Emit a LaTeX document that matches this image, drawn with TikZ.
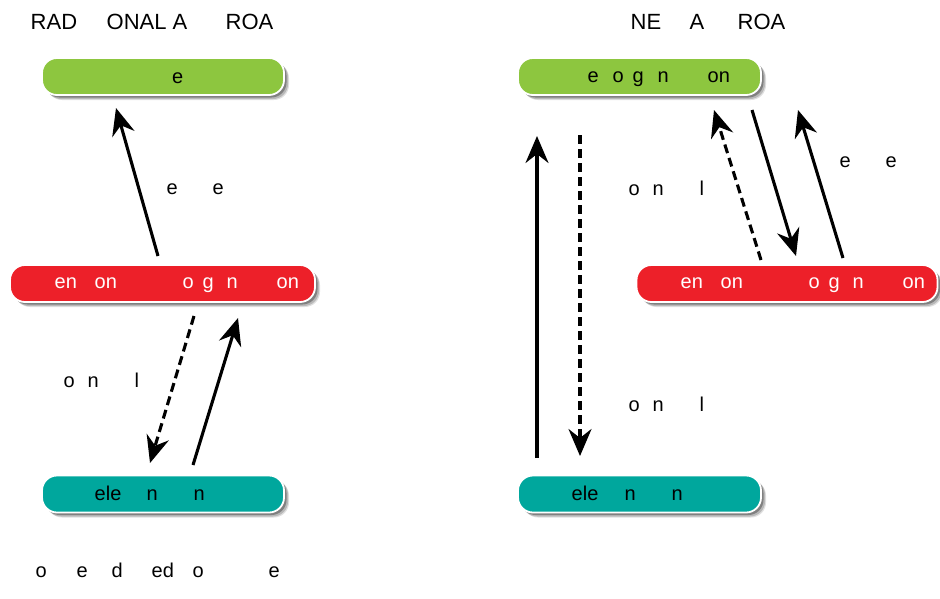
\documentclass[tikz,border=0pt]{standalone}
\usepackage{fontspec}
\setmainfont{Liberation Sans}
\usetikzlibrary{arrows.meta,shadows}
\newcommand\pc[2]{\makebox[0pt][l]{\hspace{#1pt}#2}}
\definecolor{boxgreen}{HTML}{8DC63F}
\definecolor{boxred}{HTML}{ED2029}
\definecolor{boxteal}{HTML}{00A79D}
\tikzset{
  softshadow/.style={
    general shadow={shadow xshift=5pt, shadow yshift=-5pt, fill=black, opacity=0.12},
    general shadow={shadow xshift=4pt, shadow yshift=-4pt, fill=black, opacity=0.18},
    general shadow={shadow xshift=2.5pt, shadow yshift=-2.5pt, fill=black, opacity=0.3}},
  pill/.style={rectangle, rounded corners=15pt, draw=white, line width=1.8pt,
    softshadow, minimum height=37pt, inner sep=0pt},
  txt/.style={anchor=base west, inner sep=0pt, font=\fontsize{20}{24}\selectfont},
  ttl/.style={anchor=base west, inner sep=0pt, font=\fontsize{22}{26}\selectfont},
  arr/.style={line width=3.1pt, -{Stealth[length=27pt,width=23pt,inset=9pt]}},
  darr/.style={arr, dash pattern=on 9pt off 5pt}
}
\begin{document}
\begin{tikzpicture}[x=1pt,y=-1pt]
\useasboundingbox (0,0) rectangle (940,598);
% boxes
\node[pill, fill=boxgreen, minimum width=242pt] (lg) at (163,76.5) {};
\node[pill, fill=boxred, minimum width=305pt] (lr) at (162.5,283.5) {};
\node[pill, fill=boxteal, minimum width=242pt] (lt) at (163,494) {};
\node[pill, fill=boxgreen, minimum width=243pt] (rg) at (639.5,76.5) {};
\node[pill, fill=boxred, minimum width=301pt] (rr) at (787,283.5) {};
\node[pill, fill=boxteal, minimum width=243pt] (rt) at (639.5,494) {};
% titles
\node[ttl] (tl) at (30,29) {\pc{0}{RAD}\pc{76}{ONAL A}\pc{195}{ROA}\hspace{245pt}};
\node[ttl] (tr) at (630,29) {\pc{0}{NE}\pc{59}{A}\pc{107}{ROA}\hspace{157pt}};
% box texts
\node[txt] (lgt) at (172,83) {e};
\node[txt] (rgt) at (587,82) {\pc{0}{e}\pc{25}{o}\pc{45}{g}\pc{70}{n}\pc{120}{on}\hspace{143pt}};
\node[txt, text=white] (lrt) at (54,288.5) {\pc{0}{en}\pc{40}{on}\pc{128}{o}\pc{148}{g}\pc{172}{n}\pc{222}{on}\hspace{245pt}};
\node[txt, text=white] (rrt) at (680,288.5) {\pc{0}{en}\pc{40}{on}\pc{128}{o}\pc{148}{g}\pc{172}{n}\pc{222}{on}\hspace{245pt}};
\node[txt] (ltt) at (94,500) {\pc{0}{ele}\pc{52}{n}\pc{99}{n}\hspace{110pt}};
\node[txt] (rtt) at (571,500) {\pc{0}{ele}\pc{53}{n}\pc{100}{n}\hspace{111pt}};
% labels
\node[txt] (l1) at (166,194) {\pc{0}{e}\pc{46}{e}\hspace{57pt}};
\node[txt] (l2) at (63,387) {\pc{0}{o}\pc{24}{n}\pc{71}{l}\hspace{76pt}};
\node[txt] (l3) at (628,195) {\pc{0}{o}\pc{24}{n}\pc{71}{l}\hspace{76pt}};
\node[txt] (l4) at (839,167) {\pc{0}{e}\pc{46}{e}\hspace{57pt}};
\node[txt] (l5) at (628,411) {\pc{0}{o}\pc{24}{n}\pc{71}{l}\hspace{76pt}};
\node[txt] (l6) at (35,577) {\pc{0}{o}\pc{41}{e}\pc{76}{d}\pc{116}{ed}\pc{157}{o}\pc{233}{e}\hspace{245pt}};
% arrow end points
\coordinate (a1s) at (158,256); \coordinate (a1e) at (116,108);
\coordinate (a2s) at (194,316); \coordinate (a2e) at (150,463);
\coordinate (a3s) at (193,465); \coordinate (a3e) at (238,318);
\coordinate (a4s) at (537,458); \coordinate (a4e) at (537,136);
\coordinate (a5s) at (580,135); \coordinate (a5e) at (580,456);
\coordinate (a6s) at (761,260); \coordinate (a6e) at (714,110);
\coordinate (a7s) at (752,110); \coordinate (a7e) at (796,256);
\coordinate (a8s) at (843,258); \coordinate (a8e) at (798,110);
\draw[arr] (a1s) -- (a1e);
\draw[darr] (a2s) -- (a2e);
\draw[arr] (a3s) -- (a3e);
\draw[arr] (a4s) -- (a4e);
\draw[darr] (a5s) -- (a5e);
\draw[darr] (a6s) -- (a6e);
\draw[arr] (a7s) -- (a7e);
\draw[arr] (a8s) -- (a8e);
\end{tikzpicture}
\end{document}
